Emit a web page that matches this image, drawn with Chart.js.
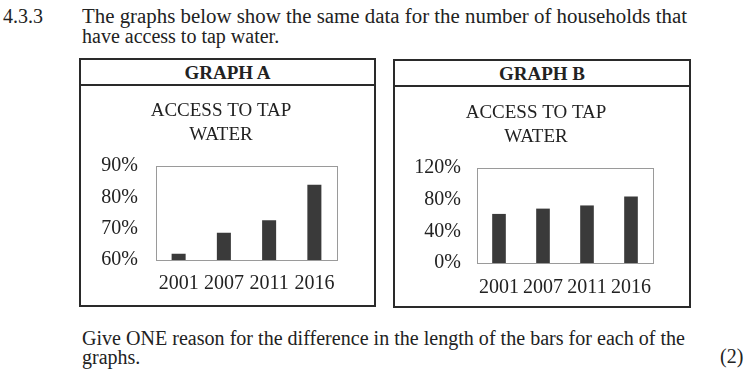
<!DOCTYPE html>
<html>
<head>
<meta charset="utf-8">
<script src="https://cdn.jsdelivr.net/npm/chart.js@4.4.1/dist/chart.umd.min.js"></script>
<style>
  html, body { margin: 0; padding: 0; background: #fff; }
  body { width: 749px; height: 370px; position: relative; overflow: hidden;
         font-family: 'Liberation Serif', 'Times New Roman', serif; color: #222; }
  .t { position: absolute; white-space: nowrap; font-size: 20px; line-height: 20px; transform-origin: 0 0; }
  .box { position: absolute; border: 2px solid #2a2a2a; box-sizing: border-box; }
  .hdr { position: absolute; left: 0; right: 0; top: 0; height: 24px; border-bottom: 2px solid #2a2a2a;
         text-align: center; font-weight: bold; font-size: 19px; line-height: 25px; color: #222; }
  canvas { position: absolute; }
</style>
</head>
<body>
<div class="t" style="left:3px; top:6px;">4.3.3</div>
<div class="t fit" data-w="605" style="left:82px; top:6px;">The graphs below show the same data for the number of households that</div>
<div class="t" style="left:82px; top:26px;">have access to tap water.</div>

<div class="box" style="left:79px; top:58px; width:297px; height:249px;">
  <div class="hdr">GRAPH A</div>
</div>
<div class="box" style="left:393px; top:59px; width:298px; height:249px;">
  <div class="hdr">GRAPH B</div>
</div>
<canvas id="chartA" width="282" height="222" style="left:80px; top:83px;"></canvas>
<canvas id="chartB" width="282" height="223" style="left:395px; top:84px;"></canvas>

<div class="t fit" data-w="603" style="left:82px; top:328px;">Give ONE reason for the difference in the length of the bars for each of the</div>
<div class="t" style="left:82px; top:347px;">graphs.</div>
<div class="t" style="left:720px; top:346px;">(2)</div>

<script>
// ---- data ----
const years = ['2001', '2007', '2011', '2016'];
const tapWaterAccess = [62, 68.7, 72.7, 84];
const graphATicks = [60, 70, 80, 90];
const graphBTicks = [0, 40, 80, 120];
const chartTitle = ['ACCESS TO TAP', 'WATER'];

// fit wide text lines
document.querySelectorAll('.fit').forEach(el => {
  const w = el.getBoundingClientRect().width;
  const target = +el.dataset.w;
  el.style.transform = 'scaleX(' + (target / w) + ')';
});

const serif = "'Liberation Serif', 'Times New Roman', serif";
const plotBorder = {
  id: 'plotBorder',
  beforeDatasetsDraw(chart) {
    const a = chart.chartArea, ctx = chart.ctx;
    ctx.save();
    ctx.strokeStyle = '#9a9a9a';
    ctx.lineWidth = 1;
    ctx.strokeRect(Math.round(a.left) + 0.5, Math.round(a.top) + 0.5,
                   Math.round(a.right - a.left), Math.round(a.bottom - a.top));
    ctx.restore();
  }
};

function makeChart(id, ticks, cfg) {
  const stepVals = ticks;
  return new Chart(document.getElementById(id), {
    type: 'bar',
    data: {
      labels: years,
      datasets: [{ data: tapWaterAccess, backgroundColor: '#3a3a3a', borderWidth: 0,
                   categoryPercentage: 1, barPercentage: 0.31 }]
    },
    options: {
      responsive: false, animation: false, devicePixelRatio: 1,
      layout: { padding: 0 },
      plugins: {
        legend: { display: false }, tooltip: { enabled: false },
        title: { display: true, text: chartTitle, color: '#222',
                 font: { family: serif, size: 19, weight: 'normal', lineHeight: '24px' },
                 padding: { top: cfg.titleTop, bottom: cfg.titleBottom } }
      },
      scales: {
        x: {
          grid: { display: false, drawTicks: false }, border: { display: false },
          ticks: { color: '#222', font: { family: serif, size: 20 }, padding: cfg.xPad, maxRotation: 0, autoSkip: false },
          afterFit(s) { s.height = cfg.xHeight; }
        },
        y: {
          min: stepVals[0], max: stepVals[stepVals.length - 1],
          afterBuildTicks(s) { s.ticks = stepVals.map(v => ({ value: v })); },
          grid: { display: false, drawTicks: false }, border: { display: false },
          ticks: { color: '#222', font: { family: serif, size: 20 }, padding: cfg.yPad,
                   callback: v => v + '%' },
          afterFit(s) { s.width = cfg.yWidth; }
        },
        yR: {
          position: 'right', display: true,
          grid: { display: false, drawTicks: false }, border: { display: false },
          ticks: { display: false },
          afterFit(s) { s.width = cfg.rWidth; }
        }
      }
    },
    plugins: [plotBorder]
  });
}

makeChart('chartA', graphATicks, { titleTop: 16, titleBottom: 19, xPad: 12, xHeight: 45, yPad: 18, yWidth: 76, rWidth: 25 });
makeChart('chartB', graphBTicks, { titleTop: 17, titleBottom: 19, xPad: 13, xHeight: 44, yPad: 16, yWidth: 82, rWidth: 24 });
</script>
</body>
</html>
